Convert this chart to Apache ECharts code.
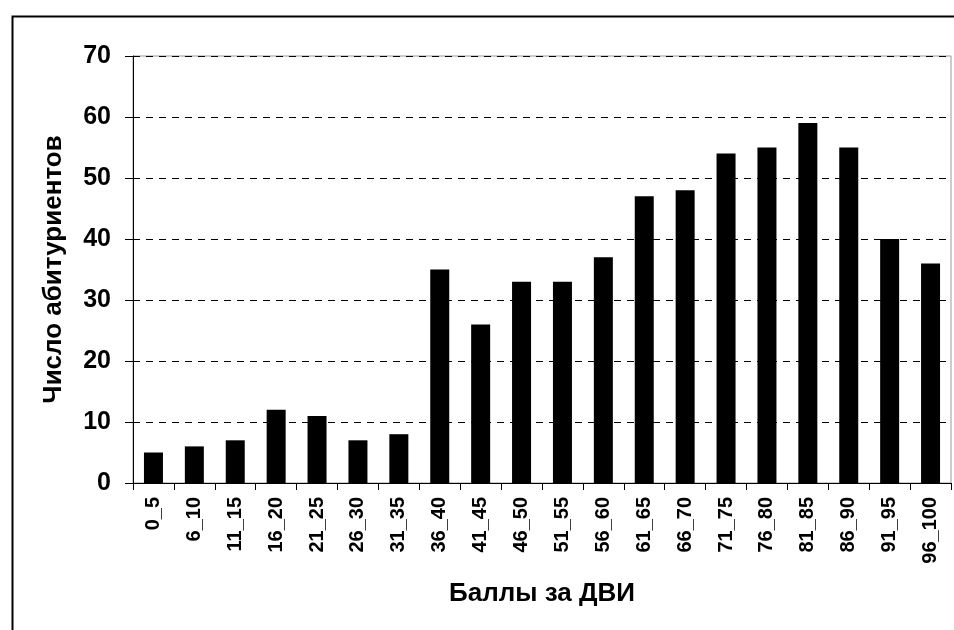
<!DOCTYPE html>
<html>
    <head>
        <meta charset="utf-8" />
        <title>Баллы за ДВИ</title>
        <script src="https://cdn.jsdelivr.net/npm/echarts@6/dist/echarts.min.js"></script>
        <script>
            const kategorii = ["0_5", "6_10", "11_15", "16_20", "21_25", "26_30", "31_35", "36_40", "41_45", "46_50",
                "51_55", "56_60", "61_65", "66_70", "71_75", "76_80", "81_85", "86_90", "91_95", "96_100"];
            const chislo = [5, 6, 7, 12, 11, 7, 8, 35, 26, 33, 33, 37, 47, 48, 54, 55, 59, 55, 40, 36];
            const shkala = [0, 10, 20, 30, 40, 50, 60, 70];

            function risovat() {
                const chart = echarts.init(document.getElementById("grafik"));
                const option = {
                    animation: false,
                    textStyle: {fontFamily: "Liberation Sans, Arial, sans-serif"},
                    graphic: [
                        {
                            type: "rect",
                            left: 10,
                            top: 14,
                            shape: {width: 1000, height: 700},
                            style: {fill: null, stroke: "#000", lineWidth: 2},
                            silent: true,
                        },
                    ],
                    grid: {
                        left: 133,
                        top: 56,
                        right: 3,
                        bottom: 147,
                        show: true,
                        borderColor: "#999",
                        borderWidth: 1,
                    },
                    xAxis: {
                        type: "category",
                        data: kategorii,
                        name: "Баллы за ДВИ",
                        nameLocation: "middle",
                        nameGap: 98,
                        nameTextStyle: {fontSize: 26, fontWeight: "bold", color: "#000"},
                        axisLine: {lineStyle: {color: "#000", width: 1}},
                        axisTick: {show: true, interval: 0, length: 7, lineStyle: {color: "#000"}},
                        axisLabel: {
                            interval: 0,
                            rotate: 90,
                            margin: 14,
                            fontSize: 20,
                            fontWeight: "bold",
                            color: "#000",
                        },
                    },
                    yAxis: {
                        type: "value",
                        min: shkala[0],
                        max: shkala[shkala.length - 1],
                        interval: 10,
                        name: "Число абитуриентов",
                        nameLocation: "middle",
                        nameGap: 66,
                        nameTextStyle: {fontSize: 26, fontWeight: "bold", color: "#000"},
                        axisLine: {show: true, lineStyle: {color: "#000", width: 1}},
                        axisTick: {show: true, length: 8, lineStyle: {color: "#000"}},
                        axisLabel: {fontSize: 25, fontWeight: "bold", color: "#000", margin: 22},
                        splitLine: {lineStyle: {color: "#000", type: [7, 6], width: 1}},
                    },
                    series: [
                        {
                            type: "bar",
                            data: chislo,
                            barWidth: 19,
                            itemStyle: {color: "#000"},
                        },
                    ],
                };
                chart.setOption(option);
            }

            window.onload = risovat;
        </script>
    </head>
    <body style="margin: 0">
        <div id="grafik" style="width: 954px; height: 630px"></div>
    </body>
</html>
